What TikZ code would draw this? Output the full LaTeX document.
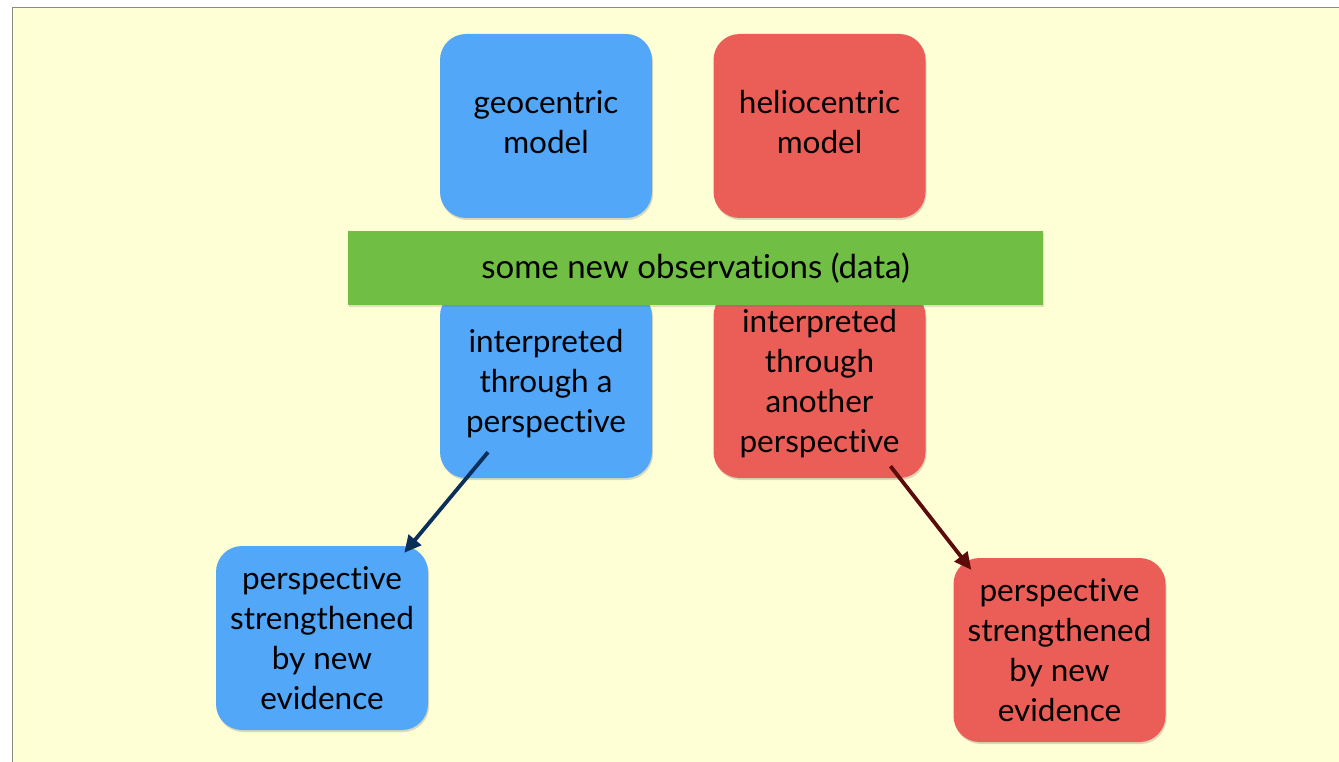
\documentclass[tikz,border=0pt]{standalone}
\usepackage{fontspec}
\setmainfont{Lato}[Ligatures={NoCommon}]
\usetikzlibrary{arrows.meta,shadows,calc}
\definecolor{bgyellow}{HTML}{FFFFD6}
\definecolor{boxblue}{HTML}{52A7F9}
\definecolor{boxred}{HTML}{EB5E58}
\definecolor{bargreen}{HTML}{70BF44}
\definecolor{navyarrow}{HTML}{0B2F5B}
\definecolor{redarrow}{HTML}{5C0A0A}
\definecolor{framegray}{HTML}{8A8A8A}
\tikzset{
  boxbase/.style={rounded corners=26pt, minimum width=212pt, minimum height=184pt,
    inner sep=0pt, align=center, text=black,
    font=\fontsize{31.5}{40}\selectfont,
    drop shadow={shadow xshift=1pt, shadow yshift=-2pt, opacity=0.25, fill=black!60}},
  bluebox/.style={boxbase, fill=boxblue},
  redbox/.style={boxbase, fill=boxred},
  greenbar/.style={fill=bargreen, minimum width=695pt, minimum height=74pt, inner sep=0pt,
    font=\fontsize{33}{40}\selectfont, text=black,
    drop shadow={shadow xshift=1pt, shadow yshift=-2pt, opacity=0.2, fill=black!60}},
  arr/.style={line width=3.8pt, -{Triangle[length=17pt,width=16pt]}}
}
\begin{document}
\begin{tikzpicture}[x=1pt,y=-1pt]
\useasboundingbox (0,0) rectangle (1339,762);
\fill[white] (0,0) rectangle (1339,762);
\filldraw[fill=bgyellow, draw=framegray, line width=1.2pt] (12.5,7.5) rectangle (1345,770);

\node[bluebox] (geo) at (546,126) {\raisebox{5pt}{\begin{tabular}{@{}c@{}}geocentric\\model\end{tabular}}};
\node[redbox] (helio) at (819.5,126) {\raisebox{5pt}{\begin{tabular}{@{}c@{}}heliocentric\\model\end{tabular}}};

\node[bluebox, minimum height=188pt] (binterp) at (546,384) {interpreted\\through a\\perspective};
\node[redbox, minimum height=188pt] (rinterp) at (819.5,384) {interpreted\\through\\another\\perspective};

\node[greenbar] (obs) at (695.5,268) {some new observations (data)};

\node[bluebox] (bstr) at (322,638) {perspective\\strengthened\\by new\\evidence};
\node[redbox] (rstr) at (1059.5,650) {perspective\\strengthened\\by new\\evidence};

\coordinate (b1) at ($(binterp.south)+(-58,-26)$);
\coordinate (b2) at ($(bstr.north east)+(-24,7)$);
\coordinate (r1) at ($(rinterp.south)+(71,-12)$);
\coordinate (r2) at ($(rstr.north west)+(18,12)$);

\draw[arr, draw=navyarrow, fill=navyarrow] (b1) -- (b2);
\draw[arr, draw=redarrow, fill=redarrow] (r1) -- (r2);
\end{tikzpicture}
\end{document}
